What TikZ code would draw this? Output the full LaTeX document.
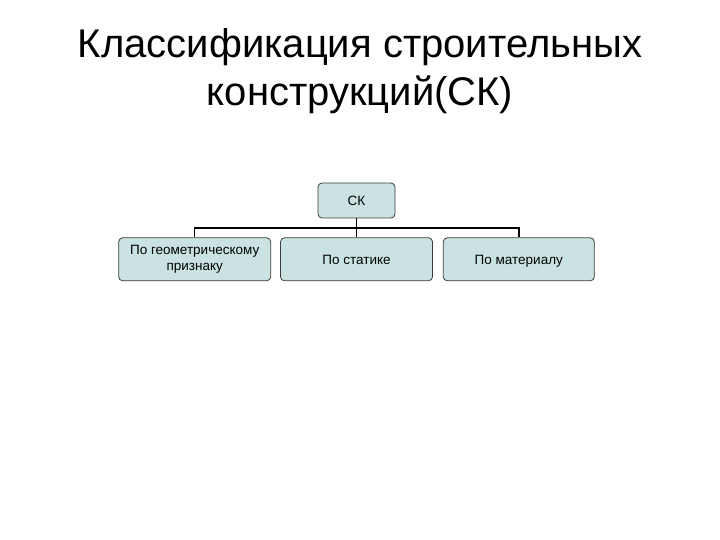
\documentclass[tikz,border=0pt]{standalone}
\usepackage{fontspec}
\setmainfont{Liberation Sans}
\usepackage{tikz}
\usetikzlibrary{positioning, calc}
\usepackage{xcolor}
\definecolor{zalivka}{RGB}{202,227,226}
\definecolor{kontur}{RGB}{60,60,60}
\tikzset{
  skbox/.style={rectangle, draw=kontur, fill=zalivka, rounded corners=4pt,
                line width=0.8pt, align=center, inner sep=2pt,
                font=\fontsize{13.5}{16}\selectfont},
  odnastroka/.style={text height=9.7pt, text depth=0pt},
  vetka/.style={line width=1.5pt, black}
}

\begin{document}
\begin{tikzpicture}[x=1pt, y=-1pt]
    \useasboundingbox (0,0) rectangle (720,540);
    \node[align=center, font=\fontsize{40}{48}\selectfont, anchor=base] (titul)
      at (360,106) {Классификация строительных\\конструкций(СК)};
    \node[skbox, odnastroka, minimum width=77pt, minimum height=35pt] (sk)
      at (356.5,200.5) {СК};
    \node[skbox, odnastroka, minimum width=152pt, minimum height=43pt,
          below=19pt of sk] (statika) {По статике};
    \node[skbox, minimum width=152pt, minimum height=43pt, left=9pt of statika] (geom)
      {По геометрическому\\признаку};
    \node[skbox, odnastroka, minimum width=151pt, minimum height=43pt,
          right=10pt of statika] (material) {По материалу};
    \coordinate (razv) at ($(sk.south)!0.5!(statika.north)$);
    \draw[vetka] (sk) -- (statika);
    \draw[vetka] (geom.north) |- (razv) -| (material.north);
  \end{tikzpicture}
\end{document}
